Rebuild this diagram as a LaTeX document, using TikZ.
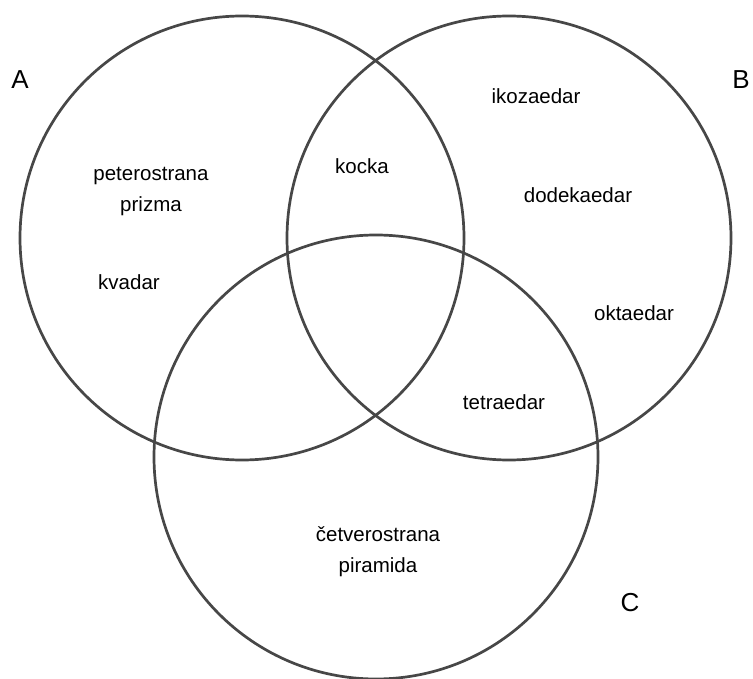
\documentclass[tikz,border=0pt]{standalone}
\usepackage{fontspec}
\setmainfont{Liberation Sans}

\begin{document}
\begin{tikzpicture}[x=1pt, y=-1pt,
    ring/.style={draw=black!72, line width=2.7pt, circle, minimum size=444pt, inner sep=0pt},
    item/.style={font=\fontsize{20.5}{31}\selectfont, align=center},
    setname/.style={font=\fontsize{26}{30}\selectfont}]
    \useasboundingbox (0,0) rectangle (753,679);

    % the three sets
    \node[ring] (setA) at (242,238) {};
    \node[ring] (setB) at (509,238) {};
    \node[ring] (setC) at (376,457) {};

    \node[setname] (nameA) at (20,80) {A};
    \node[setname] (nameB) at (741,80) {B};
    \node[setname] (nameC) at (630,603) {C};

    % solids
    \node[item] (prism) at (151,192) {peterostrana\\prizma};
    \node[item] (cuboid) at (129,282) {kvadar};
    \node[item] (cube) at (362,166) {kocka};
    \node[item] (icosa) at (536,96) {ikozaedar};
    \node[item] (dodeca) at (578,195) {dodekaedar};
    \node[item] (octa) at (634,313) {oktaedar};
    \node[item] (tetra) at (504,402) {tetraedar};
    \node[item] (pyramid) at (378,552) {četverostrana\\piramida};
\end{tikzpicture}
\end{document}
